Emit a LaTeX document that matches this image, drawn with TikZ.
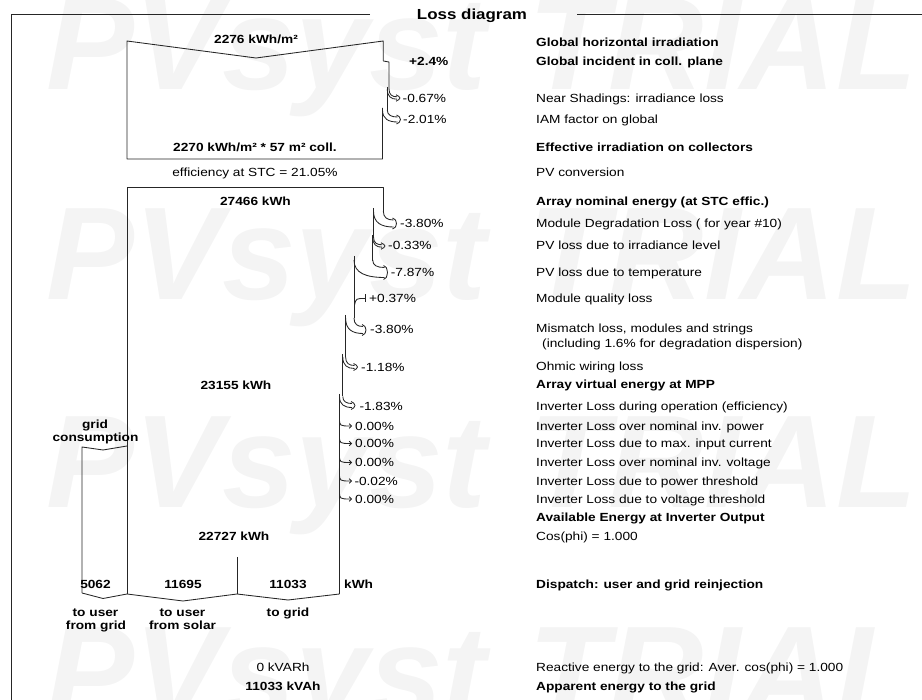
\documentclass[tikz,border=0pt]{standalone}
\usepackage{fontspec}
\setmainfont{Liberation Sans}[FakeStretch=1.16]
\newfontfamily\wmfont{Liberation Sans}
\usetikzlibrary{arrows.meta}
\newcommand\myfs{\fontsize{11.8}{14}\selectfont}
% loss band: xo xn ys tipx tipy halfwidth
\newcommand\lossarr[6]{%
  \draw[ln] (#1,#3) .. controls (#1,{#3+0.75*(#5-#6-#3)}) and ({#1+0.4*(#4-3-#1)},{#5-#6}) .. ({#4-3},{#5-#6});
  \draw[ln] (#2,#3) .. controls (#2,{#3+0.75*(#5+#6-#3)}) and ({#2+0.4*(#4-3-#2)},{#5+#6}) .. ({#4-3},{#5+#6});
  \draw[ln] ({#4-4},{#5-#6-2}) .. controls ({#4-1},{#5-#6-0.5}) .. (#4,#5) .. controls ({#4-1},{#5+#6+0.5}) .. ({#4-4},{#5+#6+2});}
% tiny loss: x ys tipx tipy
\newcommand\tinyarr[4]{%
  \draw[ln,-{Straight Barb[length=2.2pt,width=4.5pt]}] (#1,#2) .. controls (#1,#4) .. (#3,#4);}
\begin{document}
\begin{tikzpicture}[x=1pt,y=-1pt,
  ln/.style={line width=0.85pt, black!85, line join=round},
  lt/.style={anchor=base west, inner sep=0pt, yshift=-4.3pt, font=\myfs},
  lb/.style={lt, font=\myfs\bfseries},
  ct/.style={anchor=base, inner sep=0pt, yshift=-4.3pt, font=\myfs},
  cb/.style={ct, font=\myfs\bfseries},
  wm/.style={anchor=base west, inner sep=0pt, text=black!4.5, font=\wmfont\bfseries\itshape\fontsize{132}{132}\selectfont}]
\useasboundingbox (0,0) rectangle (922,700);
% watermark
\foreach \yy [count=\i] in {90,300,508,718} {
  \node[wm] (wmA\i) at (46,\yy) {PVsyst};
  \node[wm] (wmB\i) at (528,\yy) {TRIAL};
}
% frame and title
\draw[ln] (370,14) -- (11,14) -- (11,700);
\draw[ln] (577,14) -- (922,14);
\node[anchor=base, inner sep=0pt, yshift=-5.2pt, font=\bfseries\fontsize{14.6}{16}\selectfont] (title) at (472,14.5) {Loss diagram};

% ---- irradiance section
\draw[ln] (383.3,61) -- (383.3,41) -- (256,58) -- (127,41) -- (127,159) -- (382.5,159) -- (382.5,108);
\draw[ln] (383.3,61) -- (389,62) -- (389,89);
\lossarr{389}{387.3}{89}{400}{98}{1.2}
\draw[ln] (387.3,87) -- (387.3,110);
\lossarr{387.3}{382.5}{110}{400.5}{119.5}{2.5}

\node[cb] (g1) at (256,39) {2276 kWh/m²};
\node[lb] (p1) at (409,61) {+2.4\%};
\node[lt] (p2) at (402.5,98.5) {-0.67\%};
\node[lt] (p3) at (403,119.5) {-2.01\%};
\node[cb] (g2) at (255,147) {2270 kWh/m² * 57 m² coll.};
\node[ct] (eff) at (255,172.5) {efficiency at STC = 21.05\%};

% ---- energy section
\draw[ln] (383.3,212.5) -- (383.3,187) -- (127,187) -- (127,594);
\lossarr{383.3}{373.5}{211}{396.5}{223.5}{3.5}
\draw[ln] (373.5,208) -- (373.5,237);
\lossarr{373.5}{372.7}{237}{385}{246}{1.2}
\draw[ln] (372.7,235) -- (372.7,261);
\lossarr{372.7}{354}{260}{387.5}{272.5}{5}
\draw[ln] (354,256) -- (354,318);
\draw[ln] (354.5,305) .. controls (356,298.5) .. (365,298.5);
\draw[ln] (365,294.5) -- (365,302.5);
\lossarr{354}{345.6}{318}{366}{330}{3.5}
\draw[ln] (345.6,315) -- (345.6,357);
\lossarr{345.6}{342.8}{357}{357.5}{367}{1.5}
\draw[ln] (342.8,354) -- (342.8,396.5);
\lossarr{342.8}{339.5}{396.5}{355}{405.5}{2}
\draw[ln] (339.5,394) -- (339.5,594);
\foreach \yy in {426,443.5,462.5,481,499} {\tinyarr{339.5}{\yy-8}{352}{\yy}}

\node[cb] (e1) at (255.5,201) {27466 kWh};
\node[lt] (q1) at (400,223) {-3.80\%};
\node[lt] (q2) at (388,245.5) {-0.33\%};
\node[lt] (q3) at (390.7,272) {-7.87\%};
\node[lt] (q4) at (369,298.5) {+0.37\%};
\node[lt] (q5) at (370,329.5) {-3.80\%};
\node[lt] (q6) at (361,367) {-1.18\%};
\node[cb] (e2) at (236,385) {23155 kWh};
\node[lt] (q7) at (359.3,406) {-1.83\%};
\node[lt] (q8) at (355,426) {0.00\%};
\node[lt] (q9) at (355,443.5) {0.00\%};
\node[lt] (q10) at (355,462.5) {0.00\%};
\node[lt] (q11) at (354.3,481) {-0.02\%};
\node[lt] (q12) at (355,499) {0.00\%};
\node[cb] (e3) at (234,536) {22727 kWh};

% ---- dispatch
\draw[ln] (82,593) -- (103,598.5) -- (127,594) -- (183,601) -- (237,594) -- (288,600) -- (339.5,594);
\draw[ln] (237,557) -- (237,594);
\draw[ln] (82,593) -- (82,447) -- (103,450) -- (127,446);
\node[cb] (gc1) at (95,424) {grid};
\node[cb] (gc2) at (95.5,437) {consumption};
\node[cb] (d1) at (95.5,584) {5062};
\node[cb] (d2) at (183,584) {11695};
\node[cb] (d3) at (288,584) {11033};
\node[lb] (d4) at (344,584) {kWh};
\node[cb] (u1) at (95.5,612) {to user};
\node[cb] (u2) at (96,625) {from grid};
\node[cb] (s1) at (182.5,612) {to user};
\node[cb] (s2) at (182.5,625) {from solar};
\node[cb] (tg) at (288,612) {to grid};
\node[ct] (r1) at (283,667) {0 kVARh};
\node[cb] (r2) at (283,686) {11033 kVAh};

% ---- right column
\node[lb] (t1) at (536,42.5) {Global horizontal irradiation};
\node[lb] (t2) at (536,61) {Global incident in coll. plane};
\node[lt] (t3) at (536,98.5) {Near Shadings: irradiance loss};
\node[lt] (t4) at (536,119.5) {IAM factor on global};
\node[lb] (t5) at (536,147) {Effective irradiation on collectors};
\node[lt] (t6) at (536,172.5) {PV conversion};
\node[lb] (t7) at (536,201) {Array nominal energy (at STC effic.)};
\node[lt] (t8) at (536,223) {Module Degradation Loss ( for year \#10)};
\node[lt] (t9) at (536,245.5) {PV loss due to irradiance level};
\node[lt] (t10) at (536,272) {PV loss due to temperature};
\node[lt] (t11) at (536,298.5) {Module quality loss};
\node[lt] (t12) at (536,328.5) {Mismatch loss, modules and strings};
\node[lt] (t13) at (542,343.5) {(including 1.6\% for degradation dispersion)};
\node[lt] (t14) at (536,366.5) {Ohmic wiring loss};
\node[lb] (t15) at (536,384.5) {Array virtual energy at MPP};
\node[lt] (t16) at (536,406) {Inverter Loss during operation (efficiency)};
\node[lt] (t17) at (536,426) {Inverter Loss over nominal inv. power};
\node[lt] (t18) at (536,443.5) {Inverter Loss due to max. input current};
\node[lt] (t19) at (536,462.5) {Inverter Loss over nominal inv. voltage};
\node[lt] (t20) at (536,481) {Inverter Loss due to power threshold};
\node[lt] (t21) at (536,499) {Inverter Loss due to voltage threshold};
\node[lb] (t22) at (536,517.5) {Available Energy at Inverter Output};
\node[lt] (t23) at (536,536) {Cos(phi) = 1.000};
\node[lb] (t24) at (536,584) {Dispatch: user and grid reinjection};
\node[lt] (t25) at (536,667) {Reactive energy to the grid: Aver. cos(phi) = 1.000};
\node[lb] (t26) at (536,686) {Apparent energy to the grid};
\end{tikzpicture}
\end{document}
